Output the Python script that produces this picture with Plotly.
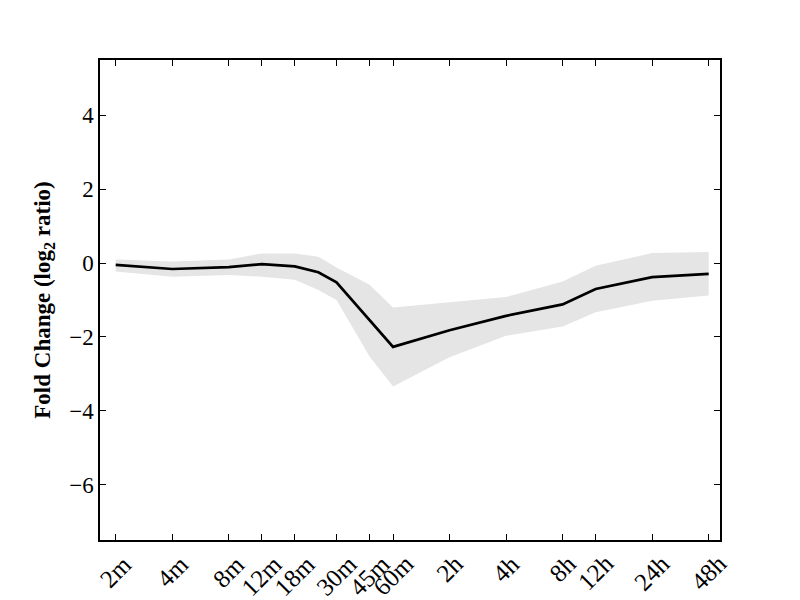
import numpy as np
import plotly.graph_objects as go

# time points in minutes
times_min = [2, 4, 8, 12, 18, 24, 30, 45, 60, 120, 240, 480, 720, 1440, 2880]
mean_vals = [-0.05, -0.16, -0.11, -0.03, -0.09, -0.25, -0.52, -1.55, -2.27, -1.82, -1.43, -1.12, -0.70, -0.38, -0.29]
upper_vals = [0.10, 0.04, 0.10, 0.26, 0.26, 0.17, -0.12, -0.59, -1.20, -1.05, -0.92, -0.50, -0.07, 0.27, 0.30]
lower_vals = [-0.23, -0.37, -0.32, -0.37, -0.45, -0.73, -1.00, -2.53, -3.34, -2.55, -1.97, -1.72, -1.33, -1.02, -0.88]

tick_minutes = [2, 4, 8, 12, 18, 30, 45, 60, 120, 240, 480, 720, 1440, 2880]
tick_labels = ["2m", "4m", "8m", "12m", "18m", "30m", "45m", "60m", "2h", "4h", "8h", "12h", "24h", "48h"]
y_ticks = [-6, -4, -2, 0, 2, 4]

serif = "Liberation Serif, DejaVu Serif, serif"

fig = go.Figure()
fig.add_trace(go.Scatter(
    x=times_min + times_min[::-1],
    y=upper_vals + lower_vals[::-1],
    fill="toself", fillcolor="#e5e5e5",
    line=dict(width=0, color="#e5e5e5"),
    mode="lines", hoverinfo="skip", showlegend=False,
))
fig.add_trace(go.Scatter(
    x=times_min, y=mean_vals, mode="lines",
    line=dict(color="black", width=2.7), showlegend=False,
))

# x tick labels, centred under their ticks and rotated 45 degrees
for t, lab in zip(tick_minutes, tick_labels):
    fig.add_annotation(
        x=float(np.log10(t)), xref="x", y=0, yref="paper",
        text=lab, showarrow=False, textangle=-45,
        xanchor="center", yanchor="top", yshift=-7,
        font=dict(family=serif, size=25, color="black"),
    )

fig.update_layout(
    width=800, height=600,
    margin=dict(l=92, r=88, t=52, b=68),
    paper_bgcolor="white", plot_bgcolor="white",
    font=dict(family=serif, size=23, color="black"),
)
fig.update_xaxes(
    type="log", range=[0.2174, 3.5197],
    tickmode="array", tickvals=tick_minutes, showticklabels=False,
    ticks="inside", ticklen=6, tickcolor="black",
    showline=True, linecolor="black", linewidth=1.5, mirror="allticks",
    showgrid=False, zeroline=False, automargin=False,
)
fig.update_yaxes(
    range=[-7.5, 5.5],
    tickmode="array", tickvals=y_ticks,
    ticks="inside", ticklen=6, tickcolor="black",
    showline=True, linecolor="black", linewidth=1.5, mirror="allticks",
    showgrid=False, zeroline=False, automargin=False,
    tickfont=dict(family=serif, size=23),
    title=dict(text="<b>Fold Change (log<sub>2</sub> ratio)</b>",
               font=dict(family=serif, size=23), standoff=12),
)

fig.write_html("out.html")
